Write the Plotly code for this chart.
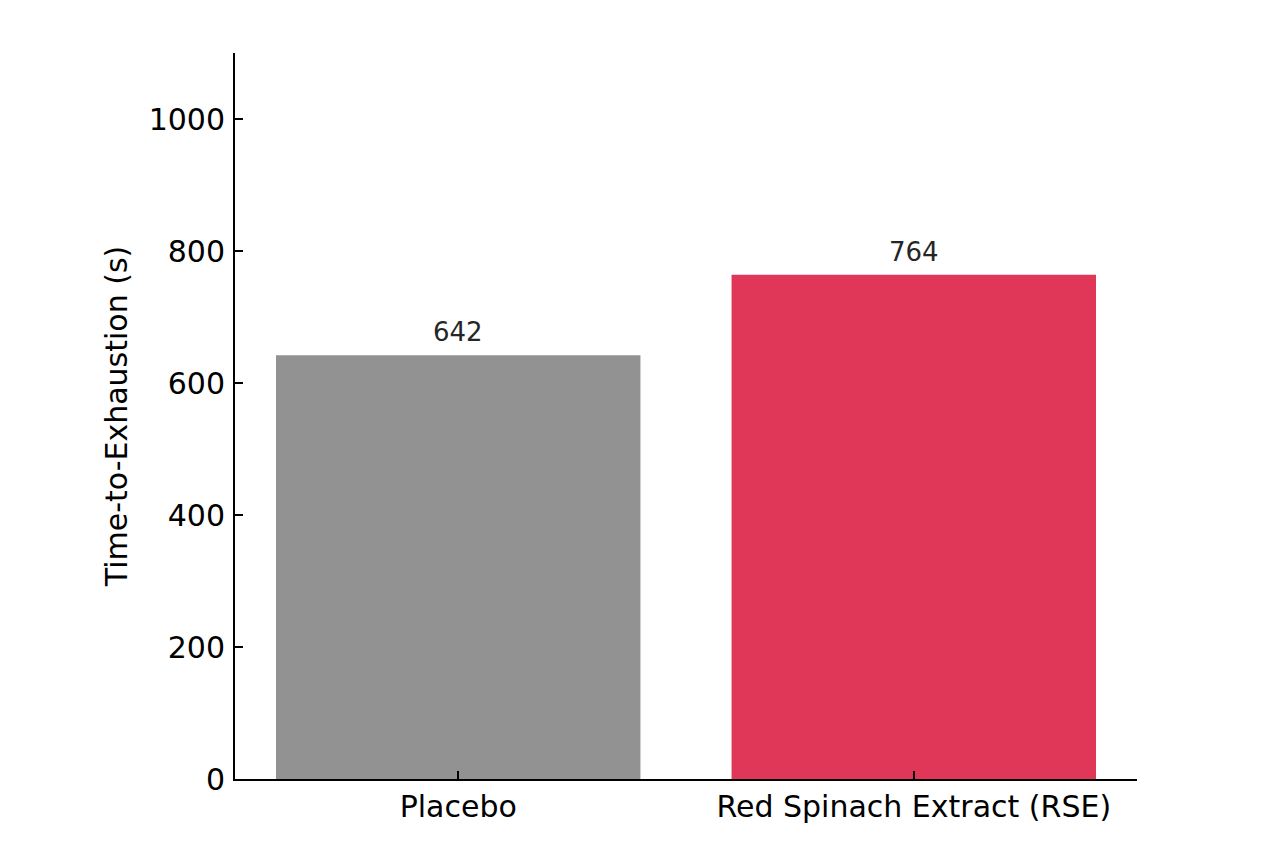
import plotly.graph_objects as go

# Dados do gráfico
groups = ["Placebo", "Red Spinach Extract (RSE)"]
tte_seconds = [642, 764]
bar_colors = ["#929292", "#E03758"]
y_ticks = [0, 200, 400, 600, 800, 1000]

FONT = "DejaVu Sans"

fig = go.Figure(
    go.Bar(
        x=groups,
        y=tte_seconds,
        width=0.8,
        marker=dict(color=bar_colors, line=dict(width=0)),
        hoverinfo="x+y",
    )
)

# Rótulos de valor acima das barras
for g, v in zip(groups, tte_seconds):
    fig.add_annotation(
        x=g,
        y=v,
        text=str(v),
        showarrow=False,
        yanchor="bottom",
        yshift=6,
        font=dict(family=FONT, size=26, color="#262626"),
    )

# body do html tem 8px de margem -> compensa aqui
fig.update_layout(
    width=1280,
    height=853,
    margin=dict(l=227, r=151, t=45, b=82),
    paper_bgcolor="white",
    plot_bgcolor="white",
    font=dict(family=FONT, size=30, color="black"),
    showlegend=False,
)

fig.update_xaxes(
    range=[-0.49, 1.49],
    showline=True,
    linecolor="black",
    linewidth=2,
    ticks="inside",
    ticklen=8,
    tickwidth=1.5,
    tickcolor="black",
    showgrid=False,
    tickfont=dict(size=30),
    ticklabelstandoff=0,
)

fig.update_yaxes(
    range=[0, 1100],
    tickvals=y_ticks,
    showline=True,
    linecolor="black",
    linewidth=2,
    ticks="inside",
    ticklen=8,
    tickwidth=1.5,
    tickcolor="black",
    showgrid=False,
    zeroline=False,
    tickfont=dict(size=30),
    ticklabelstandoff=2,
    title=dict(text="Time-to-Exhaustion (s)", font=dict(size=30), standoff=12),
)

fig.write_html("out.html")
